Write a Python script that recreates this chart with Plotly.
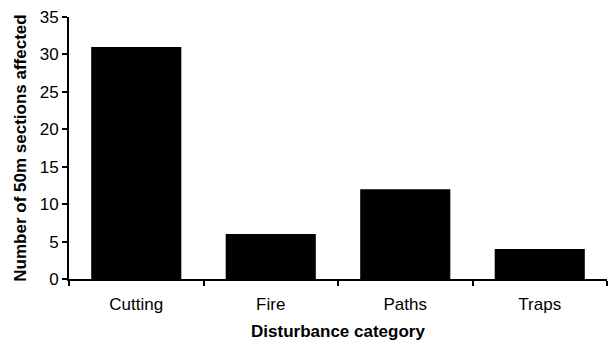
import plotly.graph_objects as go

categories = ["Cutting", "Fire", "Paths", "Traps"]
sections_affected = [31, 6, 12, 4]
y_ticks = [0, 5, 10, 15, 20, 25, 30, 35]

fig = go.Figure(
    go.Bar(
        x=categories,
        y=sections_affected,
        marker=dict(color="black", line=dict(width=0)),
        width=0.67,
    )
)

font_family = "Liberation Sans, Arial, sans-serif"

fig.update_layout(
    width=608,
    height=341,
    margin=dict(l=69, r=1, t=17, b=62),
    paper_bgcolor="white",
    plot_bgcolor="white",
    showlegend=False,
    bargap=0.33,
    font=dict(family=font_family, size=17, color="black"),
)

fig.update_xaxes(
    range=[-0.5, 3.5],
    showline=True,
    linecolor="black",
    linewidth=2,
    ticks="outside",
    tickson="boundaries",
    ticklen=5,
    tickwidth=2,
    tickcolor="black",
    showgrid=False,
    zeroline=False,
    tickfont=dict(size=17),
    ticklabelstandoff=9,
    title=dict(text="<b>Disturbance category</b>", font=dict(size=17), standoff=15),
)

fig.update_yaxes(
    range=[0, 35],
    tickvals=y_ticks,
    showline=True,
    linecolor="black",
    linewidth=2,
    ticks="outside",
    ticklen=5,
    tickwidth=2,
    tickcolor="black",
    showgrid=False,
    zeroline=False,
    tickfont=dict(size=17),
    title=dict(text="<b>Number of 50m sections affected</b>", font=dict(size=17), standoff=9),
)

fig.write_html("out.html")
